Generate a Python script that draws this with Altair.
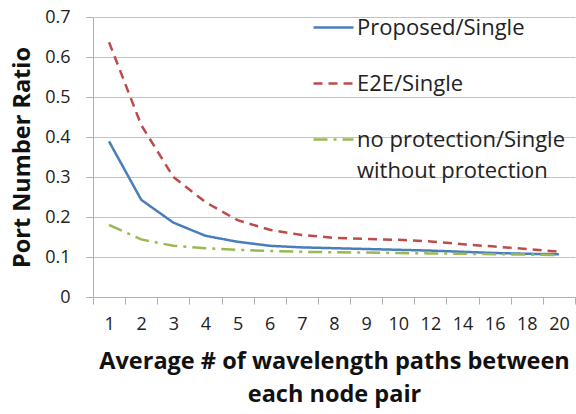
import altair as alt
import pandas as pd

x_labels = ["1", "2", "3", "4", "5", "6", "7", "8", "9", "10", "12", "14", "16", "18", "20"]
proposed = [0.389, 0.243, 0.186, 0.153, 0.138, 0.128, 0.124, 0.122, 0.120, 0.118, 0.116, 0.113, 0.110, 0.108, 0.107]
e2e = [0.637, 0.430, 0.300, 0.237, 0.192, 0.168, 0.155, 0.148, 0.145, 0.143, 0.139, 0.132, 0.126, 0.120, 0.113]
noprot = [0.180, 0.144, 0.128, 0.122, 0.118, 0.115, 0.113, 0.112, 0.111, 0.110, 0.109, 0.108, 0.107, 0.106, 0.105]

series = ["Proposed/Single", "E2E/Single", "no protection/Single"]
colors = ["#4a7ebb", "#be4b48", "#98b954"]
dashes = [[1, 0], [9, 6], [14, 6, 3, 6]]

rows = []
for name, vals in zip(series, [proposed, e2e, noprot]):
    for i, (xl, v) in enumerate(zip(x_labels, vals)):
        rows.append({"x": xl, "idx": i, "value": v, "series": name})
df = pd.DataFrame(rows)

FONT = "Open Sans"

lines = alt.Chart(df).mark_line(strokeWidth=2.5).encode(
    x=alt.X("x:N", sort=x_labels, bandPosition=0.5,
            scale=alt.Scale(type="band", paddingInner=0, paddingOuter=0),
            axis=alt.Axis(title=["Average # of wavelength paths between", "each node pair"],
                          labelAngle=0, tickBand="extent", grid=False,
                          domainColor="#b0b0b0", tickColor="#b0b0b0", tickSize=7,
                          labelPadding=11, titlePadding=16, titleLineHeight=33)),
    y=alt.Y("value:Q", scale=alt.Scale(domain=[0, 0.7], nice=False),
            axis=alt.Axis(title="Port Number Ratio", values=[0, 0.1, 0.2, 0.3, 0.4, 0.5, 0.6, 0.7],
                          labelExpr="datum.value == 0 ? '0' : format(datum.value, '.1f')",
                          gridColor="#c4c4c4", domainColor="#b0b0b0", tickColor="#b0b0b0",
                          tickSize=7, labelPadding=16, titlePadding=10)),
    color=alt.Color("series:N", scale=alt.Scale(domain=series, range=colors),
                    legend=alt.Legend(title=None, orient="none", legendX=219, legendY=-11,
                                      symbolType="stroke", symbolSize=1600, symbolStrokeWidth=2.5,
                                      labelFontSize=22, labelFont=FONT, labelColor="#222222",
                                      rowPadding=23, labelOffset=2, labelLimit=400)),
    strokeDash=alt.StrokeDash("series:N", scale=alt.Scale(domain=series, range=dashes), legend=None),
    order=alt.Order("idx:Q"),
)

extra = alt.Chart(pd.DataFrame({"t": ["without protection"]})).mark_text(
    align="left", baseline="middle", fontSize=22, font=FONT, color="#222222"
).encode(x=alt.value(264), y=alt.value(154), text="t:N")

chart = alt.layer(lines, extra).properties(
    width=482, height=280,
    padding={"left": 93, "top": 17, "right": 1, "bottom": 117},
    autosize="none", background="white",
).configure_view(stroke=None).configure_axis(
    labelFont=FONT, labelFontSize=18, labelColor="#222222",
    titleFont=FONT, titleFontSize=23.5, titleFontWeight="bold", titleColor="#111111",
)

chart.save("out.html", embed_options={"renderer": "svg", "actions": False})
